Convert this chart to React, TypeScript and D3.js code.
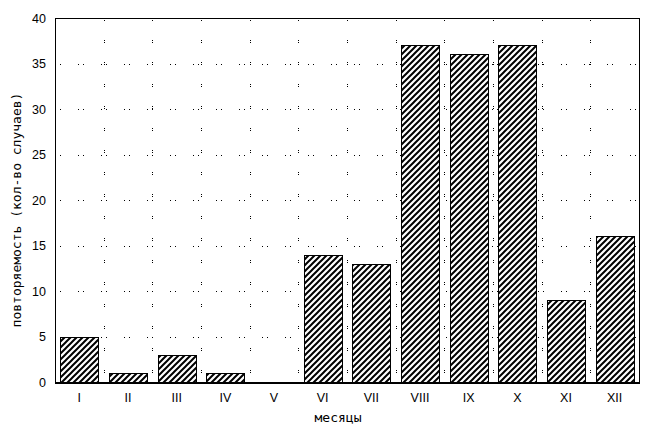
import React from "react";
import * as d3 from "d3";

const categories = ["I", "II", "III", "IV", "V", "VI", "VII", "VIII", "IX", "X", "XI", "XII"];
const values = [5, 1, 3, 1, 0, 14, 13, 37, 36, 37, 9, 16];
const yTicks = [0, 5, 10, 15, 20, 25, 30, 35, 40];
const yTitle = "повторяемость (кол-во случаев)";
const xTitle = "месяцы";

export default function App() {
  const W = 657, H = 433;
  const left = 55, right = 639, top = 18, bottom = 382;
  const x = d3.scaleBand<string>().domain(categories).range([left, right]).paddingInner(0.22).paddingOuter(0.11);
  const xb = d3.scaleBand<string>().domain(categories).range([left, right]);
  const y = d3.scaleLinear().domain([0, 40]).range([bottom, top]);
  const sans = "'Liberation Sans', Arial, sans-serif";
  const mono = "'DejaVu Sans Mono', 'Liberation Mono', monospace";
  return (
    <svg width={W} height={H} style={{ position: "absolute", left: 0, top: 0, background: "#fff" }}>
      <defs>
        <pattern id="hatch" patternUnits="userSpaceOnUse" width={6} height={6}>
          <rect width={6} height={6} fill="#fff" />
          <path d="M-1,7 L7,-1 M-4,4 L4,-4 M2,10 L10,2" stroke="#000" strokeWidth={2} />
        </pattern>
      </defs>
      <rect x={0} y={0} width={W} height={H} fill="#fff" />
      {/* grid */}
      <g shapeRendering="crispEdges">
        {yTicks.filter(t => t > 0 && t < 40).map(t => (
          <line key={"h" + t} x1={left} x2={right} y1={Math.round(y(t)) + 0.5} y2={Math.round(y(t)) + 0.5}
            stroke="#000" strokeWidth={1} strokeDasharray="1,4,1,17" />
        ))}
        {categories.slice(1).map(c => (
          <line key={"v" + c} x1={Math.round(xb(c)!) + 0.5} x2={Math.round(xb(c)!) + 0.5} y1={top} y2={bottom}
            stroke="#000" strokeWidth={1} strokeDasharray="1,1,1,19" />
        ))}
      </g>
      {/* bars */}
      <g shapeRendering="crispEdges">
        {categories.map((c, i) => values[i] > 0 ? (
          <rect key={c} x={Math.round(x(c)!) + 0.5} y={Math.round(y(values[i])) + 0.5}
            width={Math.round(x.bandwidth())} height={Math.round(y(0)) - Math.round(y(values[i]))}
            fill="url(#hatch)" stroke="#000" strokeWidth={1} />
        ) : null)}
      </g>
      {/* frame */}
      <rect x={left + 0.5} y={top + 0.5} width={right - left} height={bottom - top} fill="none" stroke="#000" strokeWidth={1} shapeRendering="crispEdges" />
      <line x1={left} x2={right + 1} y1={bottom + 0.5} y2={bottom + 0.5} stroke="#000" strokeWidth={2} shapeRendering="crispEdges" />
      {/* y tick labels */}
      {yTicks.map(t => (
        <text key={"yt" + t} x={46} y={y(t) + 4.5} textAnchor="end" fontFamily={sans} fontSize={12.5} fill="#000">{t}</text>
      ))}
      {/* x tick labels */}
      {categories.map(c => (
        <text key={"xt" + c} x={xb(c)! + xb.bandwidth() / 2} y={402} textAnchor="middle" fontFamily={sans} fontSize={12.5} fill="#000">{c}</text>
      ))}
      <text x={338} y={422} textAnchor="middle" fontFamily={mono} fontSize={13} fill="#000">{xTitle}</text>
      <text transform={`translate(21,210) rotate(-90)`} textAnchor="middle" fontFamily={mono} fontSize={13} fill="#000">{yTitle}</text>
    </svg>
  );
}
